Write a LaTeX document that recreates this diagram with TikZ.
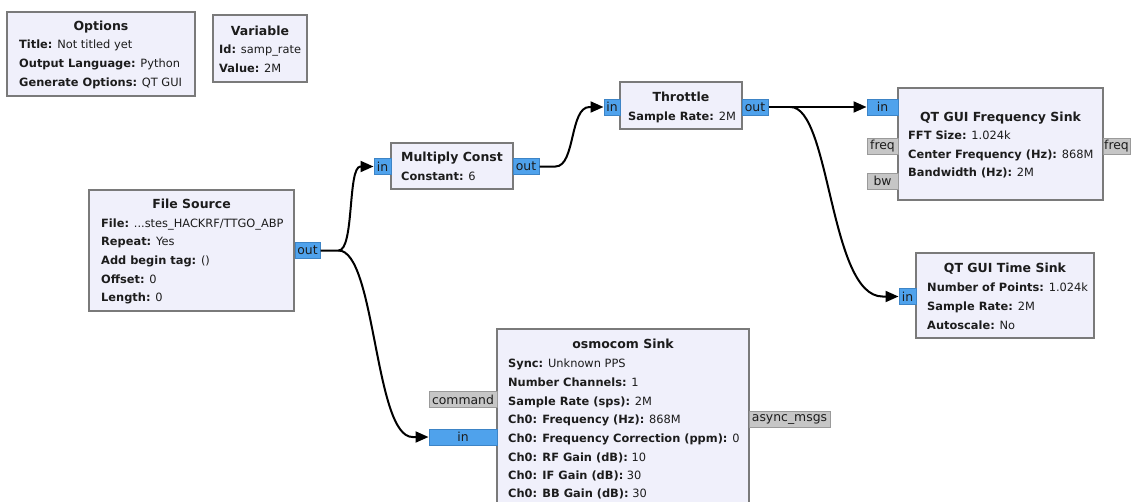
\documentclass[tikz,border=0pt]{standalone}
\usepackage{fontspec}
\setmainfont{DejaVu Sans}
\usetikzlibrary{arrows.meta,calc,fit}
\definecolor{blkfill}{HTML}{F0F0FB}
\definecolor{blkdraw}{HTML}{7A7A7A}
\definecolor{portfill}{HTML}{4FA2EC}
\definecolor{portdraw}{HTML}{3D84C6}
\definecolor{msgfill}{HTML}{C6C6C6}
\definecolor{msgdraw}{HTML}{9A9A9A}
\definecolor{txt}{HTML}{1C1C1C}
\newcommand\prm[5]{\node[prmtext] (#1) at (#2,#3) {\textbf{#4:} #5};}
\newcommand\ttl[4]{\node[ttltext] (#1) at (#2,#3) {#4};}
\newcommand\blk[5]{\node[blockbox, fit={(#2,#3) (#4,#5)}] (#1) {};}
\newcommand\prt[6]{\node[#1, minimum width={(#4-#3)*1pt}] (#2) at ({(#3+#4)/2},#5) {#6};}
\begin{document}
\begin{tikzpicture}[x=1pt,y=-1pt,
  blockbox/.style={draw=blkdraw, fill=blkfill, line width=2pt, inner sep=0pt},
  ttltext/.style={anchor=base, inner sep=0pt, text=txt, font=\bfseries\fontsize{12.5}{15}\selectfont},
  prmtext/.style={anchor=base west, inner sep=0pt, text=txt, font=\fontsize{11.4}{14}\selectfont},
  portbox/.style={draw=portdraw, fill=portfill, line width=1pt, inner sep=0pt, minimum height=16pt, text=txt, font=\fontsize{12.4}{15}\selectfont},
  msgbox/.style={draw=msgdraw, fill=msgfill, line width=1pt, inner sep=0pt, minimum height=16pt, text=txt, font=\fontsize{12.4}{15}\selectfont},
  conn/.style={line width=2pt, draw=black, -{Triangle[length=13pt,width=11pt]}},
  wire/.style={line width=2pt, draw=black}
]
\useasboundingbox (0,0) rectangle (1132,501);

% Options
\blk{opt}{7}{12}{195}{96}
\ttl{optt}{101}{30.5}{Options}
\prm{opt1}{19}{48.2}{Title}{Not titled yet}
\prm{opt2}{19}{67.2}{Output Language}{Python}
\prm{opt3}{19}{86.2}{Generate Options}{QT GUI}

% Variable
\blk{var}{213}{15}{307}{82}
\ttl{vart}{260}{35.6}{Variable}
\prm{var1}{219}{53.2}{Id}{samp\_rate}
\prm{var2}{219}{72.2}{Value}{2M}

% File Source
\blk{fs}{89}{190}{294}{311}
\ttl{fst}{191.5}{208.6}{File Source}
\prm{fs1}{101}{227.2}{File}{...stes\_HACKRF/TTGO\_ABP}
\prm{fs2}{101}{245.8}{Repeat}{Yes}
\prm{fs3}{101}{264.4}{Add begin tag}{()}
\prm{fs4}{101}{283}{Offset}{0}
\prm{fs5}{101}{301.6}{Length}{0}
\prt{portbox}{fsout}{295}{320}{250.5}{out}

% Multiply Const
\blk{mc}{391}{143}{513}{189}
\ttl{mct}{452}{161.6}{Multiply Const}
\prm{mc1}{401}{180.2}{Constant}{6}
\prt{portbox}{mcin}{374}{391}{166.5}{in}
\prt{portbox}{mcout}{513}{539}{166.5}{out}

% Throttle
\blk{th}{620}{82}{742}{129}
\ttl{tht}{681}{101.6}{Throttle}
\prm{th1}{628}{120.2}{Sample Rate}{2M}
\prt{portbox}{thin}{604}{620}{107}{in}
\prt{portbox}{thout}{742}{768}{107}{out}

% QT GUI Frequency Sink
\blk{fq}{898}{88}{1103}{200}
\ttl{fqt}{1000.5}{121.6}{QT GUI Frequency Sink}
\prm{fq1}{908}{139.2}{FFT Size}{1.024k}
\prm{fq2}{908}{158.2}{Center Frequency (Hz)}{868M}
\prm{fq3}{908}{176.2}{Bandwidth (Hz)}{2M}
\prt{portbox}{fqin}{867}{898}{107}{in}
\prt{msgbox}{fqfreqin}{867}{898}{146}{freq}
\prt{msgbox}{fqbw}{867}{898}{181}{bw}
\prt{msgbox}{fqfreqout}{1103}{1130}{146}{freq}

% QT GUI Time Sink
\blk{ts}{916}{253}{1094}{338}
\ttl{tst}{1005}{272.6}{QT GUI Time Sink}
\prm{ts1}{927}{291.2}{Number of Points}{1.024k}
\prm{ts2}{927}{310.4}{Sample Rate}{2M}
\prm{ts3}{927}{329.2}{Autoscale}{No}
\prt{portbox}{tsin}{899}{916}{296.5}{in}

% osmocom Sink
\blk{os}{497}{329}{749}{530}
\ttl{ost}{623}{348.6}{osmocom Sink}
\prm{os1}{508}{367.2}{Sync}{Unknown PPS}
\prm{os2}{508}{386.2}{Number Channels}{1}
\prm{os3}{508}{405.2}{Sample Rate (sps)}{2M}
\prm{os4}{508}{423.4}{Ch0: Frequency (Hz)}{868M}
\prm{os5}{508}{442.2}{Ch0: Frequency Correction (ppm)}{0}
\prm{os6}{508}{461.2}{Ch0: RF Gain (dB)}{10}
\prm{os7}{508}{479.4}{Ch0: IF Gain (dB)}{30}
\prm{os8}{508}{497.4}{Ch0: BB Gain (dB)}{30}
\prt{msgbox}{oscmd}{429}{497}{399.5}{command}
\prt{portbox}{osin}{429}{497}{437}{in}
\prt{msgbox}{osasync}{749}{830}{419}{async\_msgs}

% connections
\coordinate (fsj) at ($(fsout.east)+(18,0)$);
\draw[conn] (fsout.east) -- (fsj) .. controls ($(fsj)+(16,0)$) and ($(mcin.west)+(-26,0)$) .. ($(mcin.west)+(-13,0)$) -- (mcin.west);
\draw[conn] (fsj) .. controls ($(fsj)+(37,0)$) and ($(osin.west)+(-54,0)$) .. ($(osin.west)+(-16,0)$) -- (osin.west);
\coordinate (mcj) at ($(mcout.east)+(16,0)$);
\draw[conn] (mcout.east) -- (mcj) .. controls ($(mcj)+(20,0)$) and ($(thin.west)+(-34,0)$) .. ($(thin.west)+(-14,0)$) -- (thin.west);
\draw[conn] (thout.east) -- (fqin.west);
\coordinate (thj) at ($(thout.east)+(22,0)$);
\draw[conn] (thj) .. controls ($(thj)+(40,0)$) and ($(tsin.west)+(-69,0)$) .. ($(tsin.west)+(-16,0)$) -- (tsin.west);
\end{tikzpicture}
\end{document}
